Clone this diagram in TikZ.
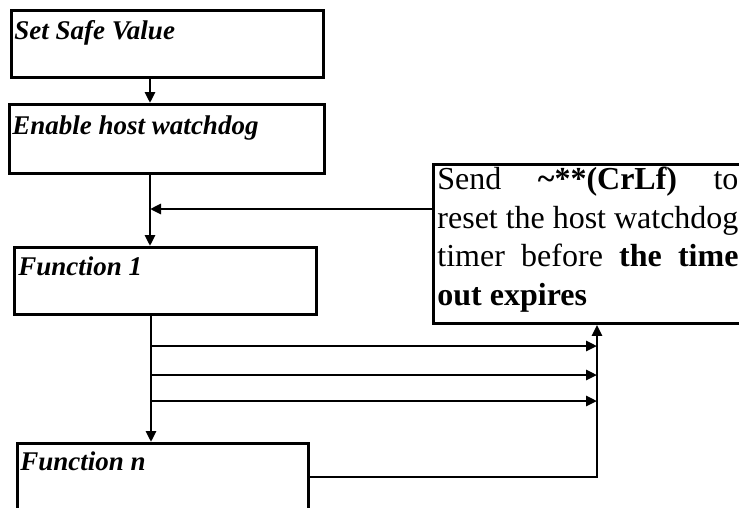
\documentclass[tikz,border=0pt]{standalone}
\usepackage{fontspec}
\setmainfont{Liberation Serif}
\usetikzlibrary{arrows.meta}
\begin{document}
\begin{tikzpicture}[x=1pt,y=-1pt,line width=2.9pt,
  box/.style={draw,line width=2.9pt,inner sep=0pt,anchor=north west},
  ttl/.style={anchor=base west,inner sep=0pt,font=\fontsize{27}{30}\selectfont\bfseries\itshape},
  arr/.style={-{Triangle[length=11pt,width=10pt]},line width=2.9pt}]
\clip (0,0) rectangle (739,507);
% boxes
\node[box,minimum width=312pt,minimum height=67pt] (b1) at (10,9) {};
\node[box,minimum width=315pt,minimum height=69pt] (b2) at (8,103) {};
\node[box,minimum width=302pt,minimum height=67pt] (f1) at (13,246) {};
\node[box,minimum width=291pt,minimum height=100pt] (fn) at (16,442) {};
\node[box,minimum width=330pt,minimum height=159pt] (tb) at (432,163) {};
% titles
\node[ttl] (t1) at (13,39) {Set Safe Value};
\node[ttl] (t2) at (11,134) {Enable host watchdog};
\node[ttl] (t3) at (17,275) {Function 1};
\node[ttl] (t4) at (19,470) {Function n};
\node[anchor=north west,inner sep=0pt,text width=301pt,align=justify,
  font=\fontsize{32}{38.5}\selectfont] (tx) at (436,166)
  {Send \textbf{\textasciitilde**(CrLf)} to\linebreak \mbox{reset} the host \mbox{watchdog}\linebreak \mbox{timer} before \textbf{the time}\linebreak \textbf{out \mbox{expires}}};
% coordinates
\coordinate (m) at (150,0);
\coordinate (m2) at (151,0);
\coordinate (r) at (597,0);
\coordinate (j) at (150,209);
\coordinate (a1) at (151,346);
\coordinate (a2) at (151,375);
\coordinate (a3) at (151,401);
\coordinate (e) at (597,477);
% connectors
\draw[arr] (b1.south -| m) -- (b2.north -| m);
\draw[arr] (b2.south -| m) -- (f1.north -| m);
\draw[arr] (tb.west |- j) -- (j);
\draw[arr] (f1.south -| m2) -- (fn.north -| m2);
\draw[arr] (a1) -- (a1 -| r);
\draw[arr] (a2) -- (a2 -| r);
\draw[arr] (a3) -- (a3 -| r);
\draw[arr] (fn.east |- e) -- (e) -- (tb.south -| r);
\end{tikzpicture}
\end{document}
